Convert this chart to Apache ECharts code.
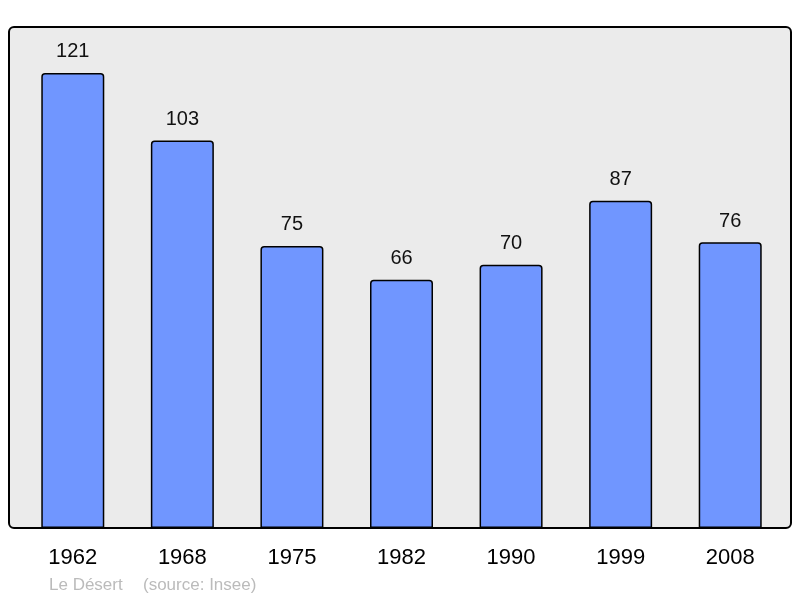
<!DOCTYPE html>
<html>
<head>
<meta charset="utf-8">
<title>Le Désert</title>
<script src="https://cdn.jsdelivr.net/npm/echarts@6/dist/echarts.min.js"></script>
<style>
  html, body { margin: 0; padding: 0; background: #fff; }
  #chart { width: 800px; height: 598px; }
</style>
</head>
<body>
<div id="chart"></div>
<script>
// données population
var years = ['1962', '1968', '1975', '1982', '1990', '1999', '2008'];
var population = [121, 103, 75, 66, 70, 87, 76];
var footerName = 'Le Désert';
var footerSource = '(source: Insee)';

var myChart = echarts.init(document.getElementById('chart'));

myChart.setOption({
    animation: false,
    textStyle: { fontFamily: 'Liberation Sans, Arial, sans-serif' },
    graphic: [
        {
            type: 'rect',
            z: 0,
            shape: { x: 9, y: 27, width: 782, height: 501, r: 5 },
            style: { fill: '#ebebeb', stroke: '#000', lineWidth: 2 }
        },
        {
            type: 'text',
            left: 49,
            top: 577,
            style: { text: footerName, fill: '#bbbbbb', fontSize: 17, fontFamily: 'Liberation Sans, Arial, sans-serif' }
        },
        {
            type: 'text',
            left: 143,
            top: 577,
            style: { text: footerSource, fill: '#bbbbbb', fontSize: 17, fontFamily: 'Liberation Sans, Arial, sans-serif' }
        }
    ],
    grid: { left: 18, right: 15, top: 27, bottom: 70, containLabel: false },
    xAxis: {
        type: 'category',
        data: years,
        axisLine: { show: false },
        axisTick: { show: false },
        axisLabel: { color: '#000', fontSize: 22, margin: 19 }
    },
    yAxis: {
        type: 'value',
        min: 0,
        max: 133.2,
        show: false,
        splitLine: { show: false }
    },
    series: [{
        type: 'bar',
        data: population,
        barWidth: 63,
        z: 2,
        itemStyle: { color: '#7096ff', borderColor: '#000', borderWidth: 1.5, borderRadius: [3, 3, 0, 0] },
        label: { show: true, position: 'top', distance: 11, color: '#111', fontSize: 20 }
    }]
});
</script>
</body>
</html>
